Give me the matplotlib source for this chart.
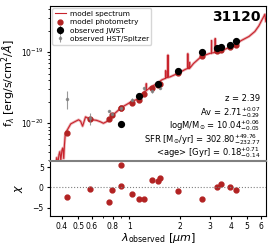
import matplotlib
matplotlib.use('Agg')
import matplotlib.pyplot as plt
import numpy as np

# model spectrum (wavelength in micron, flux in 1e-20 erg/s/cm2/A)
spec_wave = [0.345, 0.353, 0.358, 0.366, 0.373, 0.378, 0.384, 0.389, 0.394, 0.400, 0.405,
             0.410, 0.414, 0.419, 0.427, 0.451, 0.476, 0.502, 0.516, 0.530, 0.552, 0.575,
             0.607, 0.641, 0.676, 0.704, 0.733, 0.763, 0.806, 0.851, 0.898, 0.960, 1.041,
             1.129, 1.224, 1.260, 1.263, 1.266, 1.328, 1.440, 1.561, 1.645, 1.648, 1.651,
             1.690, 1.697, 1.704, 1.740, 1.937, 2.160, 2.220, 2.225, 2.230, 2.275, 2.280,
             2.285, 2.405, 2.680, 2.985, 3.068, 3.074, 3.080, 3.225, 3.231, 3.237, 3.325,
             3.704, 4.127, 4.598, 5.122, 5.55, 5.86, 6.10, 6.26, 6.36, 6.44]
spec_flux = [0.12, 0.15, 0.19, 0.25, 0.33, 0.26, 0.36, 0.40, 0.30, 0.42, 0.45,
             0.32, 0.50, 0.72, 0.78, 0.98, 1.05, 1.12, 1.07, 0.91, 1.23, 1.17,
             1.12, 1.10, 1.05, 1.00, 1.05, 1.12, 1.32, 1.48, 1.66, 1.82, 2.04,
             2.19, 2.75, 2.85, 3.6, 2.9, 3.16, 3.55, 4.07, 4.3, 5.5, 4.35,
             4.4, 9.1, 4.45, 4.47, 5.01, 5.75, 5.9, 9.5, 5.9, 5.95, 7.2,
             5.95, 6.92, 8.7, 9.55, 9.7, 14.5, 9.7, 9.9, 15.5, 9.9, 10.2,
             11.0, 12.3, 14.5, 16.6, 19.5, 23.4, 28.2, 31.6, 34.0, 27.0]

phot_wave = [0.431, 0.583, 0.763, 0.795, 0.889, 0.889, 1.037, 1.14, 1.229, 1.37,
             1.479, 1.514, 1.957, 2.69, 3.296, 3.498, 3.98, 4.30]
model_phot = [0.74, 1.15, 1.15, 1.29, 1.62, 1.62, 1.95, 2.14, 2.57, 3.16,
              3.47, 3.55, 5.13, 8.71, 10.5, 10.7, 11.7, 12.6]
chi = [-2.37, -0.3, -3.6, -0.7, 5.6, 0.3, -1.5, -2.85, -2.75, 1.8,
       1.5, 2.3, -0.8, -2.85, 0.1, 0.9, 0.2, -0.7]

jwst_wave = [0.889, 1.14, 1.479, 1.957, 2.69, 3.296, 3.498, 3.98, 4.30]
jwst_flux = [0.98, 2.45, 3.55, 5.5, 10.2, 11.5, 11.7, 12.6, 14.1]
jwst_err = [0.08, 0.08, 0.1, 0.12, 0.2, 0.2, 0.2, 0.2, 0.25]

hst_wave = [0.431, 0.583, 0.763, 0.795, 0.889, 1.037, 1.229, 1.37, 1.514]
hst_flux = [2.19, 1.17, 1.51, 1.35, 1.62, 2.14, 3.09, 2.82, 3.16]
hst_err = [0.62, 0.22, 0.05, 0.06, 0.1, 0.1, 0.12, 0.15, 0.1]

xticks = [0.4, 0.5, 0.6, 0.8, 1, 2, 3, 4, 5, 6]
xticklabels = ['0.4', '0.5', '0.6', '0.8', '1', '2', '3', '4', '5', '6']

stats = ['z = 2.39',
         r'Av = 2.71$^{+0.07}_{-0.29}$',
         r'logM/M$_{\odot}$ = 10.04$^{+0.06}_{-0.05}$',
         r'SFR [M$_{\odot}$/yr] = 302.80$^{+49.76}_{-232.77}$',
         r'<age> [Gyr] = 0.18$^{+0.71}_{-0.14}$']

scale = 1e-20
spec_wave = np.array(spec_wave)
spec_flux = np.array(spec_flux) * scale

fig = plt.figure(figsize=(2.74, 2.49), dpi=100)
ax1 = fig.add_axes([0.1825, 0.3534, 0.788, 0.6226])
ax2 = fig.add_axes([0.1825, 0.1325, 0.788, 0.2209])

red = '#c8232c'
ax1.plot(spec_wave, spec_flux, color=red, lw=2.0, alpha=0.35, zorder=1)
ax1.plot(spec_wave, spec_flux, color=red, lw=0.8, label='model spectrum', zorder=2)
ax1.plot(phot_wave, np.array(model_phot) * scale, 'o', color='#b22222', ms=3.5,
         label='model photometry', zorder=3)
ax1.errorbar(jwst_wave, np.array(jwst_flux) * scale, yerr=np.array(jwst_err) * scale,
             fmt='o', color='black', ms=4.2, elinewidth=0.8, label='observed JWST', zorder=5)
ax1.errorbar(hst_wave, np.array(hst_flux) * scale, yerr=np.array(hst_err) * scale,
             fmt='o', color='grey', ms=1.5, elinewidth=0.8, alpha=0.8,
             label='observed HST/Spitzer', zorder=4)

ax1.set_xscale('log')
ax1.set_yscale('log')
ax1.set_xlim(0.34, 6.45)
ax1.set_ylim(2.95e-21, 4.45e-19)
ax1.set_xticks(xticks)
ax1.set_xticklabels([])
ax1.xaxis.set_minor_formatter(matplotlib.ticker.NullFormatter())
ax1.yaxis.set_minor_formatter(matplotlib.ticker.NullFormatter())
ax1.tick_params(axis='x', which='both', length=0)
ax1.tick_params(axis='y', which='major', labelsize=5.5, length=2.5, pad=2)
ax1.tick_params(axis='y', which='minor', length=1.5)
ax1.set_ylabel(r'f$_{\lambda}$ [erg/s/cm$^2$/$\AA$]', fontsize=8)
ax1.yaxis.set_label_coords(-0.15, 0.5)
ax1.spines['bottom'].set_visible(False)

ax1.legend(loc='upper left', fontsize=5.3, handlelength=1.5, borderpad=0.35,
           labelspacing=0.3, handletextpad=0.5, framealpha=0.8,
           borderaxespad=0.3)
ax1.text(0.975, 0.975, '31120', transform=ax1.transAxes, ha='right', va='top',
         fontsize=10, fontweight='bold')
for i, s in enumerate(stats):
    ax1.text(0.975, 0.4 - i * 0.087, s, transform=ax1.transAxes, ha='right',
             va='center', fontsize=6.0)

ax2.plot(phot_wave, chi, 'o', color='#b22222', ms=3.5)
ax2.axhline(0, color='grey', ls=':', lw=0.8)
ax2.set_xscale('log')
ax2.set_xlim(0.34, 6.45)
ax2.set_ylim(-7.0, 6.5)
ax2.set_yticks([-5, 0, 5])
ax2.set_xticks(xticks)
ax2.set_xticklabels(xticklabels)
ax2.xaxis.set_minor_formatter(matplotlib.ticker.NullFormatter())
ax2.tick_params(axis='both', which='major', labelsize=5.5, length=2.5, pad=2)
ax2.tick_params(axis='x', which='minor', length=1.5)
ax2.set_ylabel(r'$\chi$', fontsize=8)
ax2.yaxis.set_label_coords(-0.115, 0.5)
ax2.set_xlabel(r'$\lambda_{\rm observed}$ [$\mu m$]', fontsize=8, labelpad=0)
ax2.spines['top'].set_color('grey')
ax2.spines['top'].set_linewidth(1.5)

fig.savefig('out.png', dpi=100)
